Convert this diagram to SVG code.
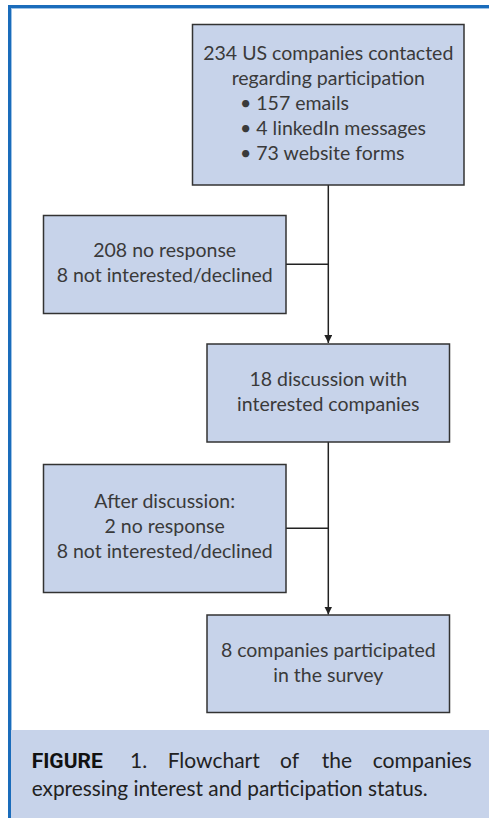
<svg xmlns="http://www.w3.org/2000/svg" width="489" height="818" viewBox="0 0 489 818">
<style>
.box{fill:#c7d3ea;stroke:#333;stroke-width:1.5}
.t{font-family:Lato,"Open Sans","Liberation Sans",sans-serif;font-size:19.5px;fill:#3a3a3a;text-anchor:middle}
.tl{font-family:Lato,"Open Sans","Liberation Sans",sans-serif;font-size:19.5px;fill:#3a3a3a}
.cap{font-family:Lato,"Open Sans","Liberation Sans",sans-serif;font-size:21px;fill:#222}
.capb{font-family:"Roboto","Liberation Sans",sans-serif;font-size:21px;font-weight:bold;fill:#111}
.ln{stroke:#222;stroke-width:1.5;fill:none}
</style>
<defs>
<marker id="arr" viewBox="0 0 10 10" refX="10" refY="5" markerWidth="8" markerHeight="8" markerUnits="userSpaceOnUse" orient="auto">
<path d="M0,0 L10,5 L0,10 z" fill="#222"/>
</marker>
</defs>
<rect x="0" y="0" width="489" height="818" fill="#fff"/>
<rect x="11" y="730" width="478" height="88" fill="#c7d3ea"/>
<rect x="8" y="5" width="481" height="3" fill="#1a6cbb"/>
<rect x="8" y="8" width="481" height="1" fill="#9cc2e6"/>
<rect x="8" y="5" width="3" height="813" fill="#1a6cbb"/>
<rect x="11" y="9" width="1" height="721" fill="#9cc2e6"/>
<g id="connectors">
<path class="ln" d="M328.3,185 V343" marker-end="url(#arr)"/>
<path class="ln" d="M286,264.3 H328.3"/>
<path class="ln" d="M328.3,442 V614.5" marker-end="url(#arr)"/>
<path class="ln" d="M286,528.3 H328.3"/>
</g>
<g id="n1">
<rect class="box" x="192.5" y="24.5" width="271.5" height="160.5"/>
<text class="t" x="328.3" y="59.5">234 US companies contacted</text>
<text class="t" x="328.3" y="85">regarding participation</text>
<text class="tl" x="240" y="110">• 157 emails</text>
<text class="tl" x="240" y="135">• 4 linkedIn messages</text>
<text class="tl" x="240" y="160">• 73 website forms</text>
</g>
<g id="n2">
<rect class="box" x="43.5" y="215.5" width="242.5" height="98"/>
<text class="t" x="164.7" y="256.7">208 no response</text>
<text class="t" x="164.7" y="281.7">8 not interested/declined</text>
</g>
<g id="n3">
<rect class="box" x="207" y="344" width="242.5" height="98"/>
<text class="t" x="328.3" y="385.7">18 discussion with</text>
<text class="t" x="328.3" y="410.7">interested companies</text>
</g>
<g id="n4">
<rect class="box" x="43.5" y="464.5" width="242.5" height="128"/>
<text class="t" x="164.7" y="508.3">After discussion:</text>
<text class="t" x="164.7" y="533.3">2 no response</text>
<text class="t" x="164.7" y="558.3">8 not interested/declined</text>
</g>
<g id="n5">
<rect class="box" x="207" y="615" width="242.5" height="97.5"/>
<text class="t" x="328.3" y="656.7">8 companies participated</text>
<text class="t" x="328.3" y="681.7">in the survey</text>
</g>
<g id="caption">
<text class="capb" x="31.7" y="767.7">FIGURE</text>
<text class="cap" x="130" y="767.7">1.</text>
<text class="cap" x="167.7" y="767.7">Flowchart</text>
<text class="cap" x="280" y="767.7">of</text>
<text class="cap" x="321.7" y="767.7">the</text>
<text class="cap" x="372.7" y="767.7" textLength="99" lengthAdjust="spacingAndGlyphs">companies</text>
<text class="cap" x="31.7" y="796" textLength="396" lengthAdjust="spacingAndGlyphs">expressing interest and participation status.</text>
</g>
</svg>
